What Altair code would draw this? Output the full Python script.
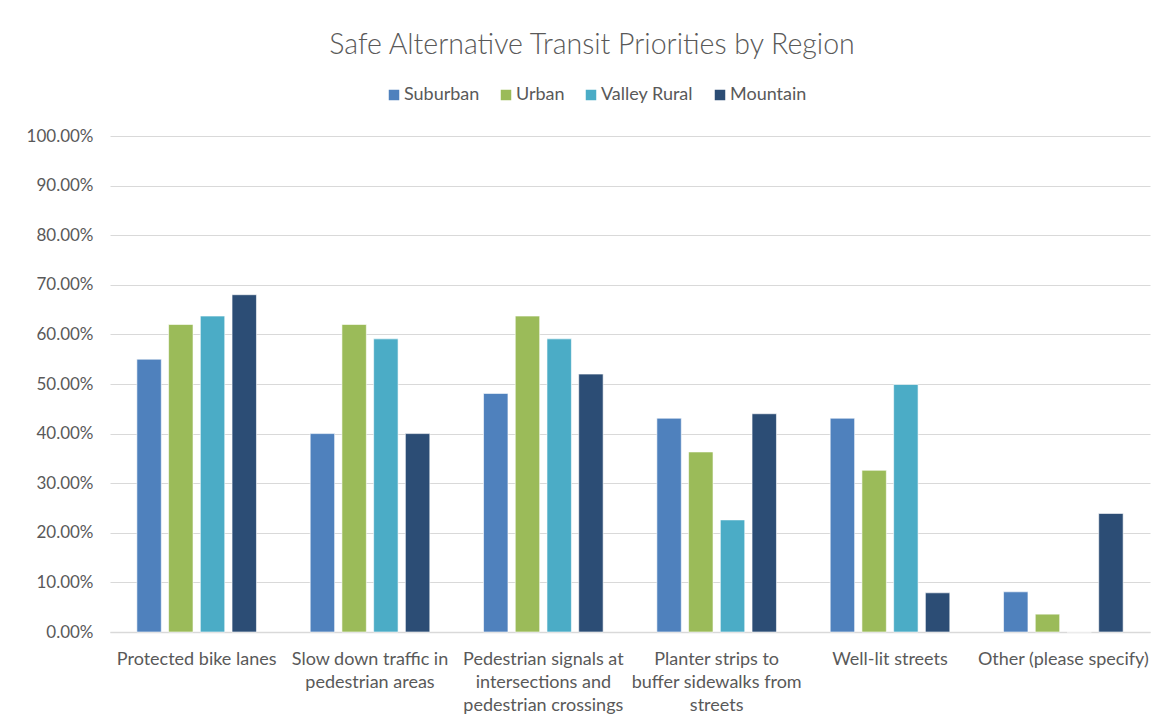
import altair as alt
import pandas as pd

categories = [
    "Protected bike lanes",
    "Slow down traffic in pedestrian areas",
    "Pedestrian signals at intersections and pedestrian crossings",
    "Planter strips to buffer sidewalks from streets",
    "Well-lit streets",
    "Other (please specify)",
]
label_lines = [
    ["Protected bike lanes"],
    ["Slow down traffic in", "pedestrian areas"],
    ["Pedestrian signals at", "intersections and", "pedestrian crossings"],
    ["Planter strips to", "buffer sidewalks from", "streets"],
    ["Well-lit streets"],
    ["Other (please specify)"],
]
regions = ["Suburban", "Urban", "Valley Rural", "Mountain"]
colors = ["#4F81BD", "#9BBB59", "#4BACC6", "#2C4D75"]

suburban = [0.550, 0.400, 0.481, 0.431, 0.431, 0.081]
urban = [0.620, 0.620, 0.637, 0.363, 0.326, 0.036]
valley_rural = [0.637, 0.591, 0.591, 0.226, 0.499, 0.0]
mountain = [0.680, 0.400, 0.520, 0.440, 0.079, 0.239]

series = {"Suburban": suburban, "Urban": urban, "Valley Rural": valley_rural, "Mountain": mountain}
rows = []
for r in regions:
    for c, v in zip(categories, series[r]):
        rows.append({"category": c, "region": r, "value": v})
df = pd.DataFrame(rows)

expr = "datum.label"
for c, lines in reversed(list(zip(categories, label_lines))):
    arr = "[" + ",".join("'" + l + "'" for l in lines) + "]"
    expr = f"datum.label == '{c}' ? {arr} : ({expr})"

FONT = "Lato"
TXT = "#595959"

chart = (
    alt.Chart(df)
    .mark_bar(stroke="white", strokeWidth=0.6)
    .encode(
        x=alt.X(
            "category:N",
            sort=categories,
            title=None,
            scale=alt.Scale(paddingInner=0.31, paddingOuter=0.155),
            axis=alt.Axis(
                labelExpr=expr,
                labelAngle=0,
                labelFont=FONT,
                labelFontSize=18,
                labelColor=TXT,
                labelPadding=18,
                labelLineHeight=23,
                labelLimit=250,
                labelBaseline="top",
                ticks=False,
                domainColor="#D9D9D9",
                domainWidth=1.5,
                grid=False,
                labelOverlap=False,
            ),
        ),
        xOffset=alt.XOffset(
            "region:N",
            sort=regions,
            scale=alt.Scale(paddingInner=0.23, paddingOuter=0),
        ),
        y=alt.Y(
            "value:Q",
            title=None,
            scale=alt.Scale(domain=[0, 1]),
            axis=alt.Axis(
                format=".2%",
                values=[i / 10 for i in range(11)],
                labelFont=FONT,
                labelFontSize=17,
                labelColor=TXT,
                labelPadding=17,
                ticks=False,
                domain=False,
                gridColor="#D9D9D9",
                gridWidth=1.2,
            ),
        ),
        color=alt.Color(
            "region:N",
            sort=regions,
            scale=alt.Scale(domain=regions, range=colors),
            legend=alt.Legend(
                title=None,
                orient="none",
                direction="horizontal",
                legendX=275,
                legendY=-50,
                symbolType="square",
                symbolSize=110,
                symbolStrokeWidth=0,
                labelFont=FONT,
                labelFontSize=18,
                labelColor=TXT,
                labelOffset=1,
                columnPadding=17,
            ),
        ),
    )
    .properties(
        width=1040,
        height=496,
        padding={"left": 102, "top": 128, "right": 6, "bottom": 88},
        autosize=alt.AutoSizeParams(type="none"),
        title=alt.TitleParams(
            "Safe Alternative Transit Priorities by Region",
            font=FONT,
            fontSize=28.5,
            fontWeight=300,
            color=TXT,
            anchor="middle",
            dx=-38,
            offset=27,
        ),
    )
    .configure_view(stroke=None)
)

chart.save("out.html", embed_options={"renderer": "svg", "actions": False})
